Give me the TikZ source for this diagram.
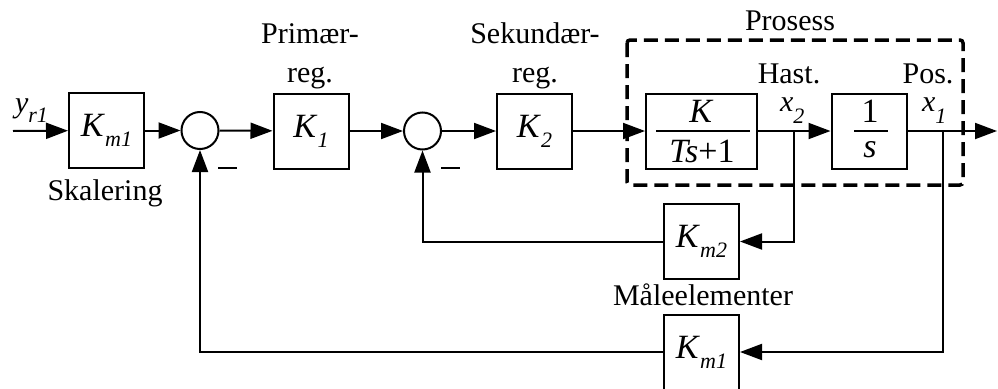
\documentclass[tikz,border=0pt]{standalone}
\usepackage{fontspec}
\setmainfont{Liberation Serif}
\usetikzlibrary{arrows.meta}
\newcommand{\sbs}[2]{\textit{#1}\raisebox{-10pt}{\fontsize{22}{22}\selectfont\itshape #2}}
\newcommand{\sbx}[2]{\textit{#1}\raisebox{-12pt}{\fontsize{22}{22}\selectfont\itshape #2}}
\begin{document}
\begin{tikzpicture}[x=1pt,y=-1pt, line width=2pt,
  blk/.style={draw, minimum width=75pt, minimum height=75pt, inner sep=0pt, font=\fontsize{34}{34}\selectfont},
  sumn/.style={draw, circle, minimum size=37pt, inner sep=0pt},
  arr/.style={-{Triangle[length=22pt,width=16pt]}},
  lbl/.style={font=\fontsize{30}{30}\selectfont, inner sep=0pt, anchor=base},
  mth/.style={font=\fontsize{34}{34}\selectfont, inner sep=0pt, anchor=base},
  minus/.style={line width=2.5pt},
  proc/.style={line width=3.5pt, dash pattern=on 14pt off 7pt, rounded corners=3pt}]
\useasboundingbox (0,0) rectangle (998,388);
% blocks
\node[blk] (km1) at (106.5,130.5) {\sbs{K}{m1}};
\node[sumn] (s1) at (200,130.5) {};
\node[blk] (k1) at (311,131) {\sbs{K}{1}};
\node[sumn] (s2) at (422.5,131) {};
\node[blk] (k2) at (534.5,131) {\sbs{K}{2}};
\node[blk, minimum width=111pt] (g) at (701.5,131) {};
\node[blk] (int) at (869,131) {};
\node[blk] (km2) at (701.5,241.5) {\sbs{K}{m2}};
\node[blk] (km1b) at (701.5,352) {\sbs{K}{m1}};
% fractions
\node[mth] (gnum) at (701.5,122) {\textit{K}};
\node[mth] (gden) at (702,162) {\textit{Ts}+1};
\draw (656,131) -- (750,131);
\node[mth] (inum) at (870,122) {1};
\node[mth] (iden) at (870,157) {\textit{s}};
\draw (854,131) -- (888,131);
% process box
\draw[proc] (627,40) rectangle (963,185);
% labels
\node[lbl] (lproc) at (790,30) {Prosess};
\node[lbl] (lp1) at (310,43) {Primær-};
\node[lbl] (lp2) at (310,82) {reg.};
\node[lbl] (ls1) at (535,43) {Sekundær-};
\node[lbl] (ls2) at (535,82) {reg.};
\node[lbl] (lsk) at (105,200) {Skalering};
\node[lbl] (lh) at (789,83) {Hast.};
\node[lbl] (lpos) at (928,83) {Pos.};
\node[lbl, anchor=base west] (lx2) at (779,111) {\sbx{x}{2}};
\node[lbl, anchor=base west] (lx1) at (921,111) {\sbx{x}{1}};
\node[lbl, anchor=base west] (ly) at (14,112) {\sbs{y}{r1}};
\node[lbl] (lme) at (703,305) {Måleelementer};
% minus signs
\draw[minus] (218,168) -- (237,168);
\draw[minus] (441,168) -- (460,168);
% connectors
\coordinate (in) at (13,131);
\coordinate (out) at (997,131);
\coordinate (b2) at (794,131);
\coordinate (b1) at (943,131);
\draw[arr] (in) -- (km1);
\draw[arr] (km1) -- (s1);
\draw[arr] (s1) -- (k1);
\draw[arr] (k1) -- (s2);
\draw[arr] (s2) -- (k2);
\draw[arr] (k2) -- (g);
\draw[arr] (g) -- (int);
\draw[arr] (int) -- (out);
\draw[arr] (b2) |- (km2);
\draw[arr] (b1) |- (km1b);
\draw[arr] (km2) -| (s2);
\draw[arr] (km1b) -| (s1);
\end{tikzpicture}
\end{document}
